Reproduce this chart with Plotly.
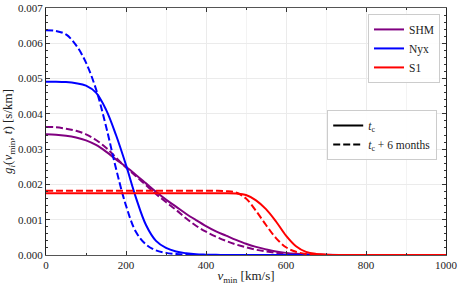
import plotly.graph_objects as go

# v_min grid [km/s]
v_min = [0, 25, 50, 75, 100, 125, 150, 175, 200, 225, 250, 275, 300, 325, 350,
         375, 400, 425, 450, 475, 500, 525, 550, 575, 600, 625, 650, 675, 700,
         750, 800, 850, 900, 950, 1000]

# g_i values in units of 1e-3 s/km
shm_tc = [3.42, 3.41, 3.38, 3.33, 3.25, 3.12, 2.93, 2.71, 2.50, 2.27, 2.03, 1.79,
          1.57, 1.37, 1.17, 0.99, 0.82, 0.67, 0.55, 0.43, 0.32, 0.23, 0.16, 0.10,
          0.06, 0.035, 0.02, 0.01, 0.004, 0, 0, 0, 0, 0, 0]
shm_6m = [3.63, 3.62, 3.58, 3.52, 3.42, 3.26, 3.04, 2.76, 2.48, 2.23, 1.98, 1.73,
          1.50, 1.28, 1.04, 0.83, 0.66, 0.52, 0.40, 0.30, 0.22, 0.15, 0.10, 0.06,
          0.035, 0.02, 0.01, 0.005, 0.002, 0, 0, 0, 0, 0, 0]
nyx_tc = [4.91, 4.91, 4.90, 4.87, 4.80, 4.60, 4.12, 3.40, 2.55, 1.62, 0.85, 0.40,
          0.20, 0.10, 0.05, 0.02, 0.01, 0.004, 0, 0, 0, 0, 0, 0,
          0, 0, 0, 0, 0, 0, 0, 0, 0, 0, 0]
nyx_6m = [6.37, 6.35, 6.25, 5.95, 5.45, 4.70, 3.65, 2.45, 1.40, 0.65, 0.30, 0.13,
          0.06, 0.03, 0.01, 0, 0, 0, 0, 0, 0, 0, 0, 0,
          0, 0, 0, 0, 0, 0, 0, 0, 0, 0, 0]
s1_tc = [1.75, 1.75, 1.75, 1.75, 1.75, 1.75, 1.75, 1.75, 1.75, 1.75, 1.75, 1.75,
         1.75, 1.75, 1.75, 1.75, 1.75, 1.75, 1.75, 1.74, 1.70, 1.55, 1.30, 0.95,
         0.55, 0.25, 0.09, 0.03, 0.01, 0, 0, 0, 0, 0, 0]
s1_6m = [1.82, 1.82, 1.82, 1.82, 1.82, 1.82, 1.82, 1.82, 1.82, 1.82, 1.82, 1.82,
         1.82, 1.82, 1.82, 1.82, 1.82, 1.82, 1.81, 1.77, 1.60, 1.25, 0.85, 0.48,
         0.22, 0.09, 0.03, 0.01, 0, 0, 0, 0, 0, 0, 0]

models = ["SHM", "Nyx", "S1"]
colors = {"SHM": "#800080", "Nyx": "#0000ff", "S1": "#ff0000"}
series = {"SHM": (shm_tc, shm_6m), "Nyx": (nyx_tc, nyx_6m), "S1": (s1_tc, s1_6m)}
time_labels = ["<i>t</i><sub>c</sub>", "<i>t</i><sub>c</sub> + 6 months"]

FONT = "Liberation Serif"
DASH = "7px,3px"

fig = go.Figure()
for m in models:
    tc, sm = series[m]
    fig.add_trace(go.Scatter(x=v_min, y=[g * 1e-3 for g in tc], mode="lines",
                             line=dict(color=colors[m], width=2, shape="spline", smoothing=1.0),
                             name=m, legend="legend"))
    fig.add_trace(go.Scatter(x=v_min, y=[g * 1e-3 for g in sm], mode="lines",
                             line=dict(color=colors[m], width=2, dash=DASH, shape="spline", smoothing=1.0),
                             name=m, showlegend=False, legend="legend"))

# proxy entries for line styles
for lab, dash in zip(time_labels, ["solid", DASH]):
    fig.add_trace(go.Scatter(x=[None], y=[None], mode="lines",
                             line=dict(color="black", width=2, dash=dash),
                             name=lab, legend="legend2"))

fig.update_layout(
    width=461, height=288,
    margin=dict(l=46, r=15, t=8, b=33),
    paper_bgcolor="white", plot_bgcolor="white",
    font=dict(family=FONT, size=11, color="#222"),
    legend=dict(x=0.985, y=0.976, xanchor="right", yanchor="top",
                bgcolor="rgba(255,255,255,0.9)", bordercolor="#cccccc", borderwidth=1,
                itemwidth=30, font=dict(family=FONT, size=11.5), tracegroupgap=0),
    legend2=dict(x=0.978, y=0.587, xanchor="right", yanchor="top",
                 bgcolor="rgba(255,255,255,0.9)", bordercolor="#cccccc", borderwidth=1,
                 itemwidth=30, font=dict(family=FONT, size=11.5)),
    showlegend=True,
)

fig.update_xaxes(
    range=[0, 1000], dtick=200, tick0=0, automargin=False,
    showline=True, linecolor="#555", linewidth=1.2, mirror="ticks",
    ticks="inside", ticklen=4, tickcolor="#333",
    showgrid=True, gridcolor="#ebebeb", gridwidth=1, zeroline=False,
    minor=dict(dtick=100, ticks="inside", ticklen=2, tickcolor="#333",
               showgrid=True, gridcolor="#f3f3f3"),
    title=dict(text="<i>v</i><sub>min</sub> [km/s]", standoff=0,
               font=dict(family=FONT, size=13)),
    tickfont=dict(family=FONT, size=11),
)
fig.update_yaxes(
    range=[0, 0.007], dtick=0.001, tickformat=".3f", automargin=False,
    showline=True, linecolor="#222", linewidth=1.2, mirror="ticks",
    ticks="inside", ticklen=4, tickcolor="#333",
    showgrid=True, gridcolor="#ebebeb", gridwidth=1, zeroline=False,
    minor=dict(dtick=0.0002, ticks="inside", ticklen=2, tickcolor="#333", showgrid=False),
    title=dict(text="<i>g<sub>i</sub></i>(<i>v</i><sub>min</sub>, <i>t</i>) [s/km]", standoff=2,
               font=dict(family=FONT, size=13)),
    tickfont=dict(family=FONT, size=11),
)

fig.write_html("out.html", config={"displayModeBar": False},
               post_script="document.body.style.margin='0';document.body.style.padding='0';")
